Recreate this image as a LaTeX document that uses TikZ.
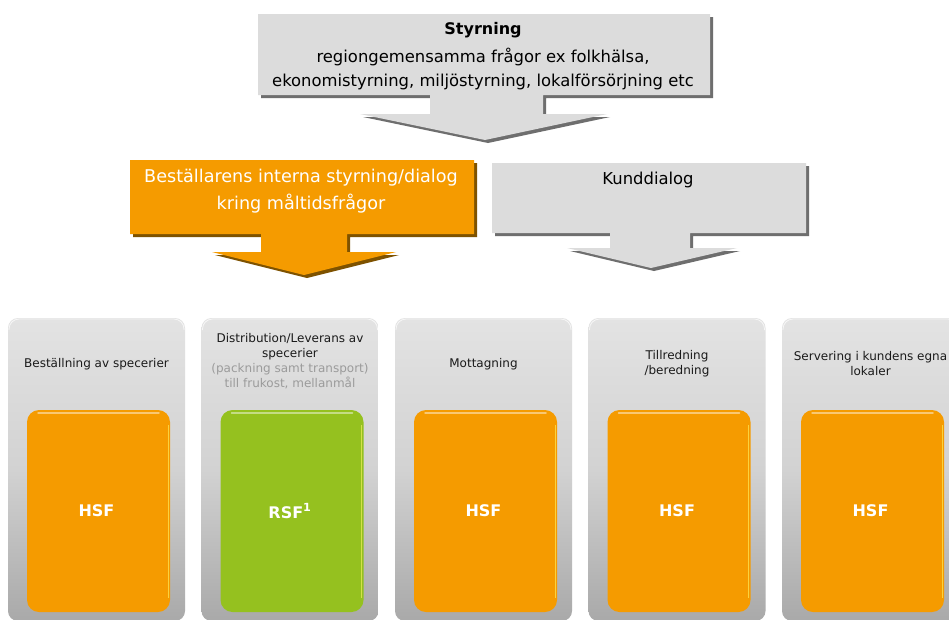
\documentclass[tikz,border=0pt]{standalone}
\usepackage{fontspec}
\setmainfont{DejaVu Sans}
\definecolor{boxgray}{HTML}{DCDCDC}
\definecolor{shgray}{HTML}{6E6E6E}
\definecolor{orng}{HTML}{F59B00}
\definecolor{orngsh}{HTML}{7E5200}
\definecolor{grn}{HTML}{95C11F}
\definecolor{ptop}{HTML}{E3E3E3}
\definecolor{pmid}{HTML}{D2D2D2}
\definecolor{pbot}{HTML}{A9A9A9}
\definecolor{subgray}{HTML}{9B9B9B}
\definecolor{txt}{HTML}{1A1A1A}
\begin{document}
\begin{tikzpicture}[x=1pt,y=-1pt,
  toptext/.style={font=\fontsize{16.4}{25}\selectfont, align=center, text=black, inner sep=0pt},
  paneltext/.style={font=\fontsize{12}{15}\selectfont, align=center, text=txt, inner sep=0pt},
  panel/.style={rounded corners=10pt, top color=ptop, bottom color=pbot, middle color=pmid},
  inner/.style={rounded corners=12pt},
  tag/.style={font=\bfseries\fontsize{16}{18}\selectfont, text=white, inner sep=0pt}]
\useasboundingbox (0,0) rectangle (949,619);
\fill[white] (0,0) rectangle (949,619);
\begin{scope}
\clip (0,0) rectangle (949,619);
% top arrow
\foreach \d/\c in {3/shgray,0/boxgray}
  \fill[\c, shift={(\d,\d)}] (258,14) -- (710,14) -- (710,95) -- (543,95) -- (543,114) -- (607,114) -- (485,140) -- (360,114) -- (430,114) -- (430,95) -- (258,95) -- cycle;
\node[toptext, font=\bfseries\fontsize{16}{18}\selectfont] (sty) at (483,30) {Styrning};
\node[toptext] (sty2) at (483,57) {regiongemensamma frågor ex folkhälsa,};
\node[toptext] (sty3) at (483,82) {ekonomistyrning, miljöstyrning, lokalförsörjning etc};
% orange arrow
\foreach \d/\c in {3/orngsh,0/orng}
  \fill[\c, shift={(\d,\d)}] (130,160) -- (474,160) -- (474,234) -- (347,234) -- (347,252) -- (396,252) -- (304,275) -- (212,252) -- (261,252) -- (261,234) -- (130,234) -- cycle;
\node[toptext, text=white, font=\fontsize{17.6}{25}\selectfont] (ord1) at (301,178) {Beställarens interna styrning/dialog};
\node[toptext, text=white, font=\fontsize{17.6}{25}\selectfont] (ord2) at (301,204) {kring måltidsfrågor};
% Kunddialog arrow
\foreach \d/\c in {3/shgray,0/boxgray}
  \fill[\c, shift={(\d,\d)}] (492,163) -- (806,163) -- (806,233) -- (690,233) -- (690,248) -- (737,248) -- (651,268) -- (567,248) -- (610,248) -- (610,233) -- (492,233) -- cycle;
\node[toptext] (kund) at (648,180) {Kunddialog};
% panels
\foreach \i/\col/\lab in {0/orng/HSF,1/grn/RSF\textsuperscript{1},2/orng/HSF,3/orng/HSF,4/orng/HSF}{
  \pgfmathsetmacro{\px}{8+193.5*\i}
  \shade[panel] (\px,318) rectangle ++(177,303);
  \draw[white, opacity=0.7, line width=0.8pt, rounded corners=10pt] (\px+1,330) -- (\px+1,319) -- (\px+176,319) -- (\px+176,330);
  \fill[\col, inner] (\px+19,410) rectangle ++(143,202);
  \draw[white, opacity=0.45, line width=1.5pt, line cap=round] (\px+30,413) -- (\px+151,413);
  \draw[yellow!60!white, opacity=0.6, line width=1pt] (\px+160,425) -- (\px+160,598);
  \node[tag] (tag\i) at (\px+88.5,511) {\lab};
}
\node[paneltext] (p1) at (96.5,364) {Beställning av specerier};
\node[paneltext, anchor=north] (p2) at (290,333) {Distribution/Leverans av\\specerier\\\textcolor{subgray}{(packning samt transport)}\\\textcolor{subgray}{till frukost, mellanmål}};
\node[paneltext] (p3) at (483.5,364) {Mottagning};
\node[paneltext] (p4) at (677,364) {Tillredning\\/beredning};
\node[paneltext] (p5) at (870.5,364) {Servering i kundens egna\\lokaler};
\end{scope}
\end{tikzpicture}
\end{document}
